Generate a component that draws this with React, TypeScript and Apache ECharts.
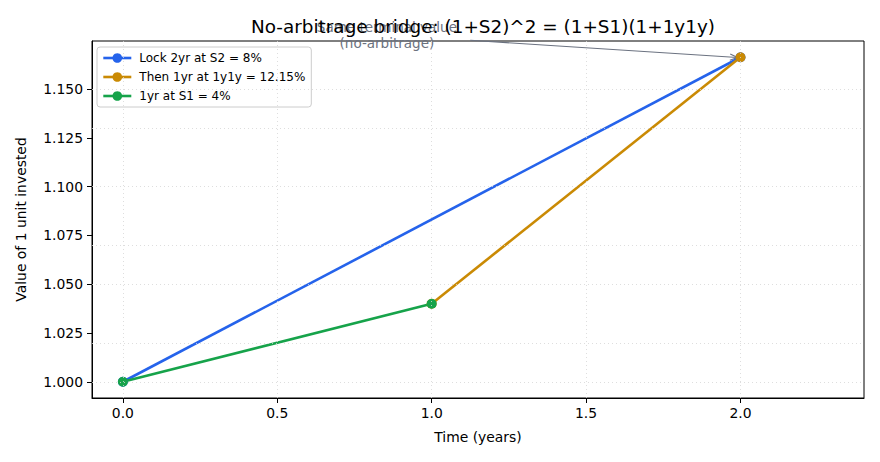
import React, { useEffect, useRef } from 'react';
import * as echarts from 'echarts';

// data: value of 1 unit invested over time
const xTicks = [0, 0.5, 1, 1.5, 2];
const yTicks = [1.0, 1.025, 1.05, 1.075, 1.1, 1.125, 1.15];
const lock2yr = [[0, 1.0], [2, 1.1664]];
const then1y1y = [[1, 1.04], [2, 1.1664]];
const oneYrS1 = [[0, 1.0], [1, 1.04]];
const seriesNames = ['Lock 2yr at S2 = 8%', 'Then 1yr at 1y1y = 12.15%', '1yr at S1 = 4%'];
const seriesColors = ['#2563eb', '#ca8a04', '#16a34a'];

// annotation (data coords)
const annotText = [0.855, 1.1778];
const annotStart = [1.125, 1.1751];
const annotEnd = [1.99, 1.16625];

const FONT = "'DejaVu Sans', sans-serif";

export default function App() {
  const chartRef = useRef<HTMLDivElement>(null);

  useEffect(() => {
    const chart = echarts.init(chartRef.current, null, { renderer: 'svg' });

    const mkSeries = (name: string, data: number[][], color: string) => ({
      name,
      type: 'line',
      data,
      symbol: 'circle',
      symbolSize: 10,
      showSymbol: true,
      lineStyle: { color, width: 2.6 },
      itemStyle: { color },
      emphasis: { disabled: true },
    });

    const gridLine = { type: [1, 3], color: '#d6d6d6', width: 0.8 };

    chart.setOption({
      animation: false,
      textStyle: { fontFamily: FONT },
      title: {
        text: 'No-arbitrage bridge: (1+S2)^2 = (1+S1)(1+1y1y)',
        left: 478,
        textAlign: 'center',
        top: 12,
        textStyle: { fontFamily: FONT, fontSize: 18.4, fontWeight: 'normal', color: '#000' },
      },
      legend: {
        data: seriesNames,
        orient: 'vertical',
        left: 97,
        top: 47,
        itemWidth: 28,
        itemHeight: 12,
        itemGap: 7,
        padding: [5, 6, 5, 5],
        backgroundColor: 'rgba(255,255,255,0.8)',
        borderColor: '#cccccc',
        borderWidth: 1,
        borderRadius: 3,
        lineStyle: { width: 2.6 },
        textStyle: { fontFamily: FONT, fontSize: 12, color: '#000', padding: [0, 0, 0, 3] },
      },
      grid: {
        left: 92,
        right: 16,
        top: 41,
        bottom: 64,
        show: true,
        borderColor: '#000',
        borderWidth: 1,
      },
      xAxis: {
        type: 'value',
        min: -0.1,
        max: 2.4,
        name: 'Time (years)',
        nameLocation: 'middle',
        nameGap: 32,
        nameTextStyle: { fontFamily: FONT, fontSize: 13.9, color: '#000' },
        axisLine: { show: true, onZero: false, lineStyle: { color: '#000', width: 1 } },
        axisTick: { show: true, length: 5, customValues: xTicks, lineStyle: { color: '#000' } },
        axisLabel: {
          customValues: xTicks,
          margin: 8,
          fontFamily: FONT,
          fontSize: 13.9,
          color: '#000',
          formatter: (v: number) => v.toFixed(1),
        },
        splitLine: { show: false },
      },
      yAxis: {
        type: 'value',
        min: 0.99168,
        max: 1.17472,
        name: 'Value of 1 unit invested',
        nameLocation: 'middle',
        nameGap: 64,
        nameTextStyle: { fontFamily: FONT, fontSize: 13.9, color: '#000' },
        axisLine: { show: true, onZero: false, lineStyle: { color: '#000', width: 1 } },
        axisTick: { show: true, length: 5, customValues: yTicks, lineStyle: { color: '#000' } },
        axisLabel: {
          customValues: yTicks,
          margin: 9,
          fontFamily: FONT,
          fontSize: 13.9,
          color: '#000',
          formatter: (v: number) => v.toFixed(3),
        },
        splitLine: { show: false },
      },
      series: [
        {
          name: 'grid',
          type: 'line',
          data: [],
          silent: true,
          markLine: {
            silent: true,
            symbol: ['none', 'none'],
            label: { show: false },
            lineStyle: gridLine,
            emphasis: { disabled: true },
            data: [
              ...xTicks.map((v) => ({ xAxis: v })),
              ...yTicks.map((v) => ({ yAxis: v })),
            ],
          },
        },
        mkSeries(seriesNames[0], lock2yr, seriesColors[0]),
        mkSeries(seriesNames[1], then1y1y, seriesColors[1]),
        mkSeries(seriesNames[2], oneYrS1, seriesColors[2]),
      ],
    });

    // annotation with arrow, placed through the chart's scales
    const t = chart.convertToPixel({ gridIndex: 0 }, annotText) as number[];
    const s = chart.convertToPixel({ gridIndex: 0 }, annotStart) as number[];
    const e = chart.convertToPixel({ gridIndex: 0 }, annotEnd) as number[];
    const ang = Math.atan2(e[1] - s[1], e[0] - s[0]);
    const hl = 8;
    const ha = 0.4;
    const h1 = [e[0] - hl * Math.cos(ang - ha), e[1] - hl * Math.sin(ang - ha)];
    const h2 = [e[0] - hl * Math.cos(ang + ha), e[1] - hl * Math.sin(ang + ha)];
    const annColor = '#6b7280';

    chart.setOption({
      graphic: [
        {
          type: 'text',
          z: 1,
          silent: true,
          style: {
            text: 'Same terminal value\n(no-arbitrage)',
            x: t[0],
            y: t[1],
            align: 'center',
            verticalAlign: 'middle',
            fill: annColor,
            fontFamily: FONT,
            fontSize: 13.5,
            lineHeight: 16,
          },
        },
        {
          type: 'line',
          silent: true,
          shape: { x1: s[0], y1: s[1], x2: e[0], y2: e[1] },
          style: { stroke: annColor, lineWidth: 1.1 },
        },
        {
          type: 'polyline',
          silent: true,
          shape: { points: [h1, e, h2] },
          style: { stroke: annColor, lineWidth: 1.1, fill: null },
        },
      ],
    });

    return () => {
      chart.dispose();
    };
  }, []);

  return (
    <div
      ref={chartRef}
      style={{ position: 'fixed', left: 0, top: 0, width: '880px', height: '462px', background: '#fff' }}
    ></div>
  );
}
